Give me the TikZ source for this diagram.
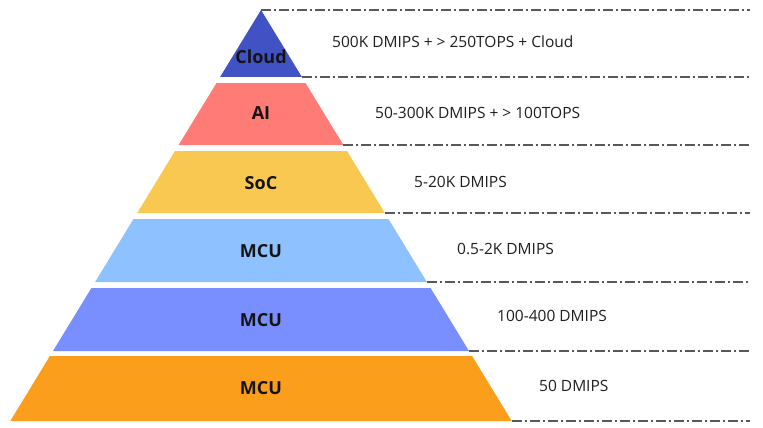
\documentclass[tikz,border=0pt]{standalone}
\usepackage{fontspec}
\setmainfont{Open Sans}
\begin{document}
\begin{tikzpicture}[x=1pt,y=-1pt,
  band/.style={draw=none},
  lvl/.style={font=\fontsize{18}{21}\selectfont\bfseries, text=black!92, inner sep=0pt},
  perf/.style={font=\fontsize{15.5}{18}\selectfont, text=black!88, anchor=west, inner sep=0pt},
  guide/.style={draw=black!65, line width=1.2pt, dash pattern=on 10pt off 3pt on 2pt off 3pt}]
\useasboundingbox (0,0) rectangle (763,428);
\definecolor{cCloud}{HTML}{4052C4}
\definecolor{cAI}{HTML}{FF7B75}
\definecolor{cSoC}{HTML}{F9C851}
\definecolor{cMCUa}{HTML}{8EC1FF}
\definecolor{cMCUb}{HTML}{7A8FFF}
\definecolor{cMCUc}{HTML}{FB9E1C}
% corners
\coordinate (apex) at (261,10);
\coordinate (b1l) at (220.1,77);  \coordinate (b1r) at (301.9,77);
\coordinate (t2l) at (216.5,83);  \coordinate (t2r) at (305.5,83);
\coordinate (b2l) at (178.6,145); \coordinate (b2r) at (343.4,145);
\coordinate (t3l) at (175.0,151); \coordinate (t3r) at (347.0,151);
\coordinate (b3l) at (137.2,213); \coordinate (b3r) at (384.8,213);
\coordinate (t4l) at (133.5,219); \coordinate (t4r) at (388.5,219);
\coordinate (b4l) at (95.1,282);  \coordinate (b4r) at (426.9,282);
\coordinate (t5l) at (91.4,288);  \coordinate (t5r) at (430.6,288);
\coordinate (b5l) at (53.0,351);  \coordinate (b5r) at (469.0,351);
\coordinate (t6l) at (49.9,356);  \coordinate (t6r) at (472.1,356);
\coordinate (b6l) at (10.3,421);  \coordinate (b6r) at (511.7,421);
% bands
\fill[cCloud] (apex) -- (b1r) -- (b1l) -- cycle;
\fill[cAI] (t2l) -- (t2r) -- (b2r) -- (b2l) -- cycle;
\fill[cSoC] (t3l) -- (t3r) -- (b3r) -- (b3l) -- cycle;
\fill[cMCUa] (t4l) -- (t4r) -- (b4r) -- (b4l) -- cycle;
\fill[cMCUb] (t5l) -- (t5r) -- (b5r) -- (b5l) -- cycle;
\fill[cMCUc] (t6l) -- (t6r) -- (b6r) -- (b6l) -- cycle;
% guide lines
\coordinate (e0) at (750,10);
\coordinate (e1) at (750,77);
\coordinate (e2) at (750,145);
\coordinate (e3) at (750,213);
\coordinate (e4) at (750,282);
\coordinate (e5) at (750,351);
\coordinate (e6) at (750,421);
\draw[guide] (apex) -- (e0);
\draw[guide] (b1r) -- (e1);
\draw[guide] (b2r) -- (e2);
\draw[guide] (b3r) -- (e3);
\draw[guide] (b4r) -- (e4);
\draw[guide] (b5r) -- (e5);
\draw[guide] (b6r) -- (e6);
% labels
\node[lvl] (l1) at (261,57) {Cloud};
\node[lvl] (l2) at (261,113) {AI};
\node[lvl] (l3) at (261,183) {SoC};
\node[lvl] (l4) at (261,251) {MCU};
\node[lvl] (l5) at (261,320) {MCU};
\node[lvl] (l6) at (261,388) {MCU};
% performance texts
\node[perf] (p1) at (332,42) {500K DMIPS + > 250TOPS + Cloud};
\node[perf] (p2) at (375,113) {50-300K DMIPS + > 100TOPS};
\node[perf] (p3) at (414,182) {5-20K DMIPS};
\node[perf] (p4) at (457,249) {0.5-2K DMIPS};
\node[perf] (p5) at (497,316) {100-400 DMIPS};
\node[perf] (p6) at (539,386) {50 DMIPS};
\end{tikzpicture}
\end{document}
